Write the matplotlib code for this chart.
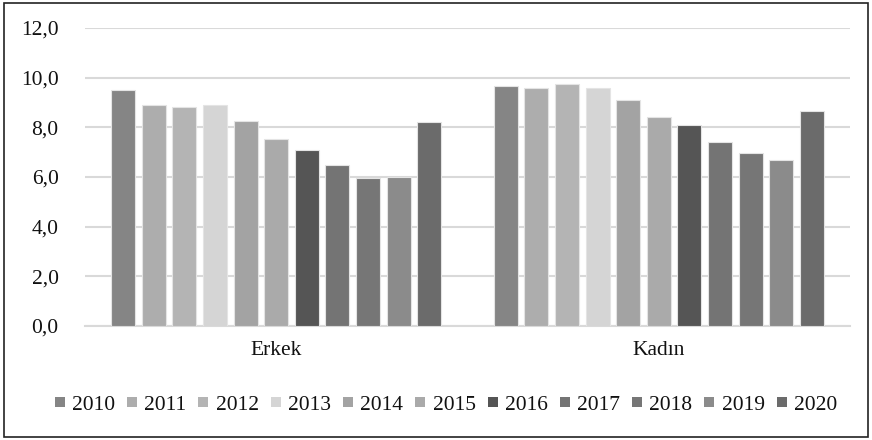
import matplotlib
matplotlib.use("Agg")
import matplotlib.pyplot as plt
from matplotlib.lines import Line2D
from matplotlib.patches import Rectangle
import numpy as np

plt.rcParams['font.family'] = ['Liberation Serif', 'DejaVu Serif']

categories = ["Erkek", "Kadın"]
years = ["2010", "2011", "2012", "2013", "2014", "2015",
         "2016", "2017", "2018", "2019", "2020"]
erkek = [9.5, 8.9, 8.8, 8.9, 8.25, 7.55, 7.1, 6.5, 5.95, 6.0, 8.2]
kadin = [9.65, 9.6, 9.75, 9.6, 9.1, 8.4, 8.1, 7.4, 6.95, 6.7, 8.65]
y_ticks = [0, 2, 4, 6, 8, 10, 12]
y_tick_labels = ["0,0", "2,0", "4,0", "6,0", "8,0", "10,0", "12,0"]

colors = ["#858585", "#adadad", "#b4b4b4", "#d5d5d5", "#a3a3a3", "#aaaaaa",
          "#555555", "#747474", "#767676", "#8b8b8b", "#6b6b6b"]

fig = plt.figure(figsize=(8.72, 4.40), dpi=100)
ax = fig.add_axes([85 / 872, 1 - 326 / 440, 765 / 872, 298 / 440])

x = np.arange(len(categories))
step = 0.08
width = 0.063
for i, (yr, col) in enumerate(zip(years, colors)):
    vals = [erkek[i], kadin[i]]
    ax.bar(x + (i - 5) * step, vals, width=width, color=col,
           edgecolor="#e4e4e4", linewidth=0.8, zorder=3, label=yr)

ax.set_xlim(-0.5, 1.5)
ax.set_ylim(0, 12)
ax.set_yticks(y_ticks)
ax.set_yticklabels(y_tick_labels)
ax.set_xticks(x)
ax.set_xticklabels(categories)
ax.tick_params(axis="both", length=0, labelsize=15.5, colors="#111111")
ax.tick_params(axis="y", pad=19)
ax.tick_params(axis="x", pad=11)
ax.yaxis.grid(True, color="#d9d9d9", linewidth=1.5, zorder=0)
for s in ["top", "right", "left"]:
    ax.spines[s].set_visible(False)
ax.spines["bottom"].set_color("#d9d9d9")
ax.spines["bottom"].set_linewidth(1.5)

handles = [Line2D([], [], marker="s", linestyle="none", markersize=6.8,
                  color=c, markeredgewidth=0) for c in colors]
leg = fig.legend(handles, years, loc="center",
                 bbox_to_anchor=(446 / 872, 1 - 405 / 440),
                 ncol=len(years), frameon=False, fontsize=15.5,
                 handlelength=0.45, handletextpad=0.35, columnspacing=0.56,
                 borderpad=0, borderaxespad=0)
for t in leg.get_texts():
    t.set_color("#111111")

fig.patches.append(Rectangle((4 / 872, 3 / 440), 864 / 872, 434 / 440,
                             transform=fig.transFigure, fill=False,
                             edgecolor="#222222", linewidth=1.2))

fig.savefig("out.png", dpi=100)
